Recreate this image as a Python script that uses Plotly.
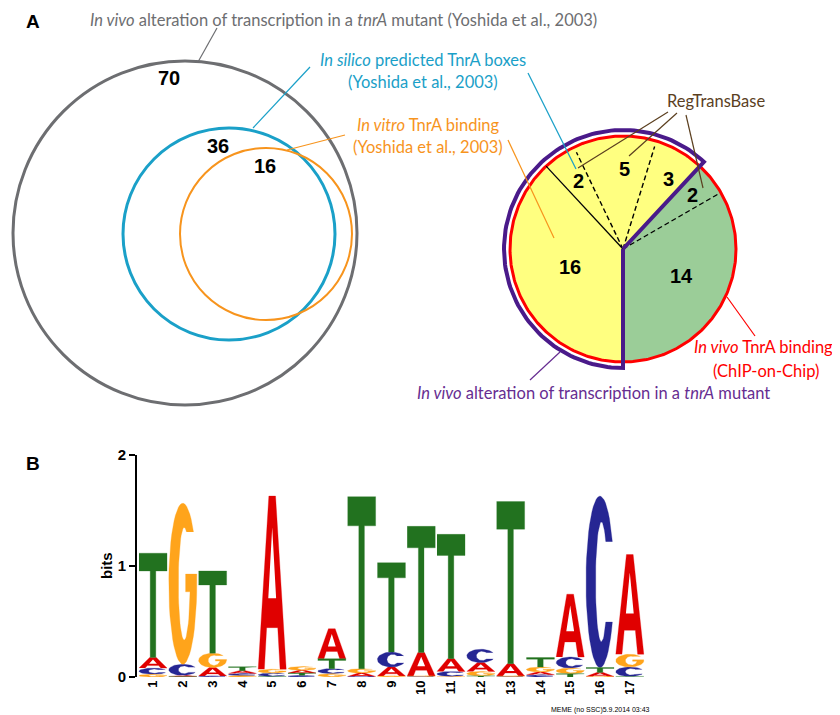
import numpy as np
import plotly.graph_objects as go

# page is 840x715; the browser body margin shifts the figure by 8px
PAGE_W, PAGE_H, OFF = 840, 715, 8
FW, FH = PAGE_W - OFF, PAGE_H - OFF

# ---------------- data ----------------
venn_counts = [70, 36, 16]
venn_names = ["in vivo (tnrA mutant)", "in silico TnrA boxes", "in vitro TnrA binding"]

pie_values = [16, 2, 5, 3, 2, 14]
pie_group = ["yellow", "yellow", "yellow", "yellow", "green", "green"]

logo_positions = list(range(1, 18))
logo_ticklabels = [str(p) for p in logo_positions]
bits_A = [0.095, 0.010, 0.075, 0.025, 1.560, 0.025, 0.270, 0.030, 0.080, 0.210, 0.115, 0.080, 0.110, 0.025, 0.566, 0.035, 0.898]
bits_C = [0.055, 0.100, 0.010, 0.020, 0.030, 0.015, 0.045, 0.005, 0.135, 0.005, 0.045, 0.120, 0.005, 0.020, 0.100, 1.544, 0.085]
bits_G = [0.025, 1.450, 0.130, 0.012, 0.035, 0.035, 0.030, 0.040, 0.010, 0.005, 0.005, 0.040, 0.005, 0.045, 0.050, 0.005, 0.115]
bits_T = [0.940, 0.005, 0.740, 0.035, 0.005, 0.020, 0.090, 1.550, 0.805, 1.137, 1.120, 0.010, 1.460, 0.085, 0.030, 0.045, 0.005]

# ---------------- styles ----------------
GRAY = "#6d6e71"
BLUE = "#1aa0c8"
ORANGE = "#f7941d"
BROWN = "#5b3f1f"
RED = "#ff0000"
PURPLE_TXT = "#662d91"
PURPLE = "#4a1a8a"
YELLOW = "#ffff80"
GREEN = "#9bcd98"
LBL_FONT = "Lato, 'Open Sans', sans-serif"
NUM_FONT = "'Liberation Sans Narrow', 'Arial Narrow', 'Liberation Sans', sans-serif"
LOGO_COLORS = {"A": "#e00000", "C": "#262693", "G": "#ffa41b", "T": "#22721f"}

fig = go.Figure()

# ---------------- Venn (panel A, left) ----------------
venn_geom = [  # (cx, cy, r, color, width)
    (185, 233, 172, GRAY, 3),
    (229, 234, 106, BLUE, 3),
    (266, 234, 86, ORANGE, 2),
]
for cx, cy, r, col, lw in venn_geom:
    fig.add_shape(type="circle", xref="x", yref="y", x0=cx - r, x1=cx + r, y0=cy - r, y1=cy + r,
                  line=dict(color=col, width=lw), layer="above")
venn_num_pos = [(169, 78), (218, 146), (265, 166)]
for (x, y), n in zip(venn_num_pos, venn_counts):
    fig.add_annotation(x=x, y=y, xref="x", yref="y", text=str(n), showarrow=False,
                       font=dict(family=NUM_FONT, size=20, color="black", weight="bold"))

# ---------------- Pie (panel A, right) ----------------
PCX, PCY, PR, PRP = 623, 249, 113, 119
total = sum(pie_values)
bounds = [270 - 360 * c / total for c in np.concatenate([[0], np.cumsum(pie_values)])]


def pt(theta_deg, r):
    t = np.radians(theta_deg)
    return PCX + r * np.cos(t), PCY - r * np.sin(t)


for grp, col in (("yellow", YELLOW), ("green", GREEN)):
    xs, ys = [], []
    for i, g in enumerate(pie_group):
        if g != grp:
            continue
        th = np.linspace(bounds[i], bounds[i + 1], 60)
        ax, ay = pt(th, PR)
        xs += [PCX] + list(ax) + [PCX, None]
        ys += [PCY] + list(ay) + [PCY, None]
    fig.add_trace(go.Scatter(x=xs, y=ys, mode="lines", fill="toself", fillcolor=col,
                             line=dict(width=0, color=col), hoverinfo="skip", showlegend=False))

# red circle
th = np.linspace(0, 360, 361)
cx_, cy_ = pt(th, PR)
fig.add_trace(go.Scatter(x=cx_, y=cy_, mode="lines", line=dict(color=RED, width=3),
                         hoverinfo="skip", showlegend=False))

# dividers
divider_style = {1: ("solid", 1.3, 1.0), 2: ("5px,3px", 1.4, 0.95), 3: ("5px,3px", 1.4, 0.95),
                 5: ("5px,3px", 1.4, 0.98)}
for k, (dash, lw, frac) in divider_style.items():
    ex, ey = pt(bounds[k], PR * frac)
    fig.add_trace(go.Scatter(x=[PCX, ex], y=[PCY, ey], mode="lines",
                             line=dict(color="black", width=lw, dash=dash),
                             hoverinfo="skip", showlegend=False))

# purple outline around the "in vivo alteration" part (yellow)
yellow_end = bounds[4]
th = np.linspace(yellow_end, 270, 120)
ox, oy = pt(th, PRP)
tip = pt(yellow_end, PRP)
px_ = [PCX, tip[0]] + list(ox) + [PCX, PCX]
py_ = [PCY, tip[1]] + list(oy) + [pt(270, PRP)[1], PCY]
fig.add_trace(go.Scatter(x=px_, y=py_, mode="lines", line=dict(color=PURPLE, width=4),
                         hoverinfo="skip", showlegend=False))

# pie numbers
label_rfrac = [0.50, 0.72, 0.71, 0.74, 0.78, 0.57]
label_dang = [-2.6, -1.4, -5.0, -3.0, -1.0, 5.0]
for i, v in enumerate(pie_values):
    mid = (bounds[i] + bounds[i + 1]) / 2 + label_dang[i]
    lx, ly = pt(mid, PR * label_rfrac[i])
    fig.add_annotation(x=lx, y=ly, xref="x", yref="y", text=str(v), showarrow=False,
                       font=dict(family=NUM_FONT, size=20, color="black", weight="bold"))

# ---------------- labels & leader lines ----------------
def label(x, y, text, color, size=16.5, xanchor="center"):
    fig.add_annotation(x=x, y=y, xref="x", yref="y", text=text, showarrow=False, xanchor=xanchor,
                       font=dict(family=LBL_FONT, size=size, color=color))


label(343, 20, "<i>In vivo</i> alteration of transcription in a <i>tnrA</i> mutant (Yoshida et al., 2003)", GRAY)
label(423, 60, "<i>In silico</i> predicted TnrA boxes", BLUE)
label(423, 82, "(Yoshida et al., 2003)", BLUE)
label(428, 125, "<i>In vitro</i> TnrA binding", ORANGE)
label(428, 147, "(Yoshida et al., 2003)", ORANGE)
label(716, 101, "RegTransBase", BROWN)
label(835, 347, "<i>In vivo</i> TnrA binding", RED, xanchor="right")
label(766, 371, "(ChIP-on-Chip)", RED)
label(593, 393, "<i>In vivo</i> alteration of transcription in a <i>tnrA</i> mutant", PURPLE_TXT)

leaders = [
    ((217, 28), (198, 62), GRAY),
    ((310, 67), (253, 128), BLUE),
    ((528, 73), (576, 169), BLUE),
    ((345, 135), (287, 150), ORANGE),
    ((508, 140), (554, 238), ORANGE),
    ((668, 112), (578, 168), BROWN),
    ((677, 113), (629, 156), BROWN),
    ((686, 115), (703, 188), BROWN),
    ((727, 297), (755, 336), RED),
    ((560, 352), (530, 380), PURPLE_TXT),
]
for (x0, y0), (x1, y1), col in leaders:
    fig.add_shape(type="line", xref="x", yref="y", x0=x0, y0=y0, x1=x1, y1=y1,
                  line=dict(color=col, width=1.2), layer="above")

for x, y, t in ((33, 21, "A"), (33, 463, "B")):
    fig.add_annotation(x=x, y=y, xref="x", yref="y", text=t, showarrow=False,
                       font=dict(family="Liberation Sans", size=19, color="black", weight="bold"))

# ---------------- Sequence logo (panel B) ----------------
def arc(cx, cy, rx, ry, t0, t1, n=48):
    t = np.radians(np.linspace(t0, t1, n))
    return list(cx + rx * np.cos(t)), list(cy + ry * np.sin(t))


def glyph(letter):
    """unit-square polygons: (outer list of (xs, ys), holes list)"""
    if letter == "T":
        xs = [0, 1, 1, 0.6, 0.6, 0.4, 0.4, 0]
        ys = [1, 1, 0.83, 0.83, 0, 0, 0.83, 0.83]
        return [(xs, ys)], []
    if letter == "A":
        xs = [0, 0.38, 0.62, 1, 0.78, 0.698, 0.302, 0.22]
        ys = [0, 1, 1, 0, 0, 0.24, 0.24, 0]
        hole = ([0.36, 0.64, 0.5], [0.41, 0.41, 0.82])
        return [(xs, ys)], [hole]
    ro, icx, irx, iry = 0.5, 0.55, 0.21, 0.35
    if letter == "C":
        to = 28
        yo = 0.5 + ro * np.sin(np.radians(to))
        ti = np.degrees(np.arcsin(min((yo - 0.5) / iry, 1)))
        ox, oy = arc(0.5, 0.5, ro, ro, to, 360 - to)
        ix, iy = arc(icx, 0.5, irx, iry, 360 - ti, ti)
        return [(ox + ix, oy + iy)], []
    # G
    to = 40
    yo = 0.5 + ro * np.sin(np.radians(to))
    ti = np.degrees(np.arcsin(min((yo - 0.5) / iry, 1)))
    ox, oy = arc(0.5, 0.5, ro, ro, to, 360)
    tb = np.degrees(np.arcsin((0.45 - 0.5) / iry))
    xb = icx + irx * np.cos(np.radians(tb))
    ix, iy = arc(icx, 0.5, irx, iry, tb, ti - 360)
    xs = ox + [1.0, 0.6, 0.6, xb] + ix
    ys = oy + [0.56, 0.56, 0.45, 0.45] + iy
    return [(xs, ys)], []


LW = 0.94
letter_paths = {k: ([], []) for k in "ACGT"}
holes = ([], [])
bits = {"A": bits_A, "C": bits_C, "G": bits_G, "T": bits_T}
for j, p in enumerate(logo_positions):
    stack = sorted("ACGT", key=lambda L: bits[L][j])
    y0 = 0.0
    for L in stack:
        h = bits[L][j]
        polys, hls = glyph(L)
        for xs, ys in polys:
            letter_paths[L][0].extend([p - LW / 2 + LW * x for x in xs] + [None])
            letter_paths[L][1].extend([y0 + h * y for y in ys] + [None])
        for xs, ys in hls:
            holes[0].extend([p - LW / 2 + LW * x for x in xs] + [None])
            holes[1].extend([y0 + h * y for y in ys] + [None])
        y0 += h

for L in "ACGT":
    fig.add_trace(go.Scatter(x=letter_paths[L][0], y=letter_paths[L][1], xaxis="x2", yaxis="y2",
                             mode="lines", fill="toself", fillcolor=LOGO_COLORS[L],
                             line=dict(width=0.3, color=LOGO_COLORS[L]), hoverinfo="skip",
                             showlegend=False))
fig.add_trace(go.Scatter(x=holes[0], y=holes[1], xaxis="x2", yaxis="y2", mode="lines",
                         fill="toself", fillcolor="white", line=dict(width=0, color="white"),
                         hoverinfo="skip", showlegend=False))

fig.add_annotation(x=106, y=566, xref="x", yref="y", text="bits", textangle=-90, showarrow=False,
                   font=dict(family="Liberation Sans", size=15, color="black", weight="bold"))
fig.add_annotation(x=600, y=710, xref="x", yref="y", text="MEME (no SSC)5.9.2014 03:43",
                   showarrow=False, font=dict(family="Liberation Sans", size=7, color="black"))

X_LEFT_PX, POS1_PX, STEP_PX = 137, 153, 29.8
Y0_PX, Y2_PX = 677, 455
x2_lo = 1 - (POS1_PX - X_LEFT_PX) / STEP_PX
x2_hi = 17.5
x2_right_px = POS1_PX + (x2_hi - 1) * STEP_PX

fig.update_layout(
    template="none",
    width=FW, height=FH, margin=dict(l=0, r=0, t=0, b=0, pad=0, autoexpand=False),
    paper_bgcolor="white", plot_bgcolor="rgba(0,0,0,0)",
    xaxis=dict(range=[OFF, OFF + FW], domain=[0, 1], visible=False, fixedrange=True, automargin=False),
    yaxis=dict(range=[OFF + FH, OFF], domain=[0, 1], visible=False, fixedrange=True, automargin=False),
    xaxis2=dict(range=[x2_lo, x2_hi],
                domain=[(X_LEFT_PX - OFF) / FW, (x2_right_px - OFF) / FW], anchor="y2",
                automargin=False,
                showgrid=False, zeroline=False, showline=False, ticks="",
                tickvals=logo_positions, ticktext=logo_ticklabels, tickangle=-90,
                tickfont=dict(family="Liberation Sans", size=13, color="black", weight="bold")),
    yaxis2=dict(range=[0, 2],
                domain=[(OFF + FH - Y0_PX) / FH, (OFF + FH - Y2_PX) / FH], anchor="x2",
                automargin=False,
                showgrid=False, zeroline=False, showline=True, linecolor="black", linewidth=2,
                ticks="outside", ticklen=6, tickwidth=2, tickcolor="black",
                tickvals=[0, 1, 2], ticktext=["0", "1", "2"],
                tickfont=dict(family="Liberation Sans", size=15, color="black", weight="bold")),
    showlegend=False,
)

fig.write_html("out.html")
